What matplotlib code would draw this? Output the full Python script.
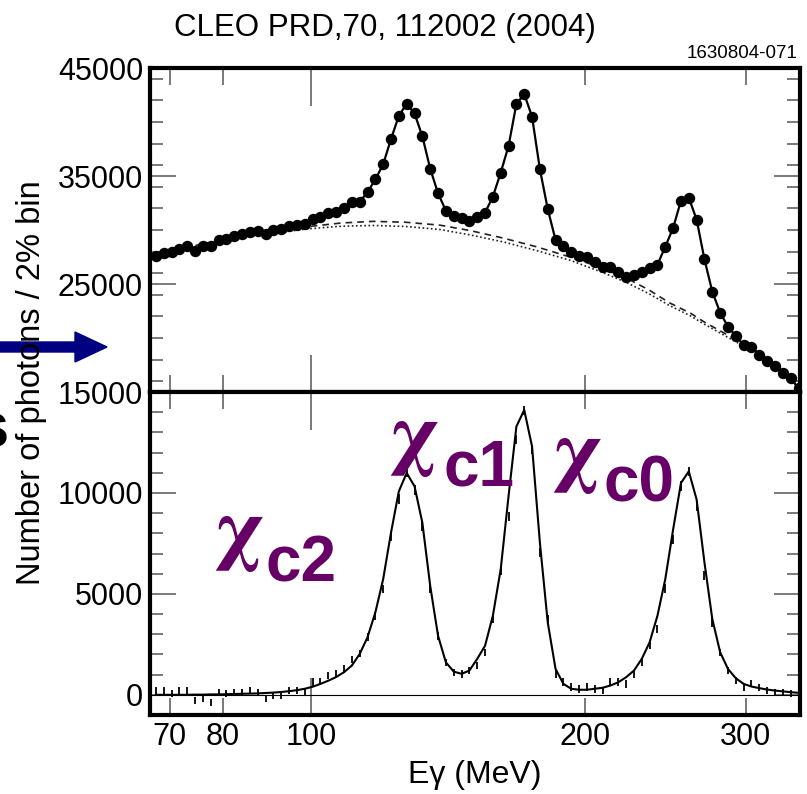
import matplotlib
matplotlib.use("Agg")
import matplotlib.pyplot as plt
from matplotlib.ticker import MultipleLocator
from matplotlib.patches import FancyArrow

plt.rcParams['font.family'] = ['Liberation Sans', 'DejaVu Sans']

# ---------------- data ----------------
# photon energy bin centres (MeV), 2% bins
energy = [67.60, 68.95, 70.33, 71.74, 73.17, 74.64, 76.13, 77.65, 79.20, 80.79,
          82.40, 84.05, 85.73, 87.45, 89.20, 90.98, 92.80, 94.66, 96.55, 98.48,
          100.45, 102.46, 104.51, 106.60, 108.73, 110.91, 113.13, 115.39, 117.70, 120.05,
          122.45, 124.90, 127.40, 129.95, 132.55, 135.20, 137.90, 140.66, 143.47, 146.34,
          149.27, 152.25, 155.30, 158.40, 161.57, 164.80, 168.10, 171.46, 174.89, 178.39,
          181.95, 185.59, 189.31, 193.09, 196.95, 200.89, 204.91, 209.01, 213.19, 217.45,
          221.80, 226.24, 230.76, 235.38, 240.09, 244.89, 249.79, 254.78, 259.88, 265.08,
          270.38, 275.79, 281.30, 286.93, 292.67, 298.52, 304.49, 310.58, 316.80, 323.13,
          329.59, 336.18, 342.91]

# top panel: number of photons per bin
counts = [27600, 27900, 27930, 28270, 28520, 28090, 28550, 28520, 29070, 29170,
          29450, 29630, 29820, 29880, 29630, 29970, 30090, 30400, 30490, 30560,
          30990, 31240, 31540, 31700, 32070, 32560, 32620, 33490, 34690, 36080,
          38430, 40560, 41700, 40800, 38670, 35680, 33400, 31790, 31270, 31080,
          30800, 31170, 31600, 33090, 35310, 37780, 41670, 42590, 40490, 35620,
          31950, 29070, 28520, 27990, 27590, 27530, 27010, 26540, 26540, 26140,
          25680, 25830, 26110, 26480, 26790, 28460, 30190, 32720, 32990, 30960,
          27280, 24290, 22350, 21050, 20190, 19350, 19140, 18430, 17900, 17410,
          16790, 16270, 15340]

# background curves (top panel)
bkg_energy = [66.6, 75, 85, 99, 108, 117, 127, 138.5, 149.5, 162.6, 176.8, 192.5,
              209.3, 221.9, 235, 247.6, 261, 270, 293.4, 311, 330, 344]
bkg_dashed = [27700, 28600, 29500, 30300, 30650, 30800, 30720, 30450, 29950, 29250,
              28450, 27500, 26450, 25550, 24450, 23250, 22300, 21500, 19800, 18600,
              16900, 15500]
bkg_dotted = [27650, 28500, 29350, 30100, 30350, 30420, 30330, 30050, 29550, 28900,
              28100, 27200, 26050, 25150, 24100, 23000, 22050, 21300, 19600, 18450,
              16800, 15350]

# bottom panel: background-subtracted counts and errors
signal = [200, 200, 50, 200, 200, -280, -200, -360, 130, 50,
          100, 130, 210, 130, -200, -30, -30, 210, 210, 130,
          620, 660, 950, 1040, 1280, 1750, 2050, 2850, 3900, 5250,
          7850, 9700, 11000, 10150, 8350, 5250, 2900, 1600, 1100, 1040,
          1200, 1450, 2100, 3750, 6150, 8850, 12650, 14100, 12150, 7050,
          3750, 1040, 620, 380, 300, 380, 300, 210, 620, 620,
          540, 1040, 1600, 2450, 3250, 5250, 7700, 10350, 11050, 9350,
          5900, 3600, 2100, 1200, 700, 380, 540, 380, 210, 130,
          130, 50, 50]
signal_err = [170] * 20 + [190] * 10 + [230] * 6 + [190] * 8 + [230] * 6 + \
             [190] * 15 + [230] * 7 + [170] * 11

signal_fit = [0, 0, 0, 0, 0, 10, 10, 20, 20, 30,
              40, 50, 60, 70, 90, 110, 140, 180, 230, 300,
              400, 540, 700, 880, 1120, 1450, 2020, 2850, 4080, 5730,
              8030, 10080, 10990, 10330, 8520, 5400, 2930, 1610, 1150, 1040,
              1200, 1780, 2430, 3920, 6220, 9840, 13290, 14110, 12300, 7530,
              3590, 1280, 540, 300, 250, 250, 300, 350, 460, 620,
              870, 1200, 1780, 2600, 3920, 5730, 8190, 10490, 11070, 9670,
              6550, 3750, 2110, 1280, 820, 540, 410, 330, 260, 210,
              170, 130, 100]

xlabels_major = ['100']
xticks_major = [100]
xticks_minor = [70, 80, 200, 300]
xlabels_minor = ['70', '80', '200', '300']
top_yticks = [15000, 25000, 35000, 45000]
bot_yticks = [0, 5000, 10000]

# ---------------- figure ----------------
W, H = 807, 794
fig = plt.figure(figsize=(W / 100, H / 100), dpi=100)

def fx(px):
    return px / W

def fy(py):
    return 1 - py / H

ax1 = fig.add_axes([fx(150), fy(392), fx(800) - fx(150), fy(68) - fy(392)])
ax2 = fig.add_axes([fx(150), fy(715), fx(800) - fx(150), fy(392) - fy(715)])

for ax in (ax1, ax2):
    ax.set_xscale('log')
    ax.set_xlim(66.6, 344.2)
    ax.set_xticks(xticks_major, labels=xlabels_major)
    ax.set_xticks(xticks_minor, labels=xlabels_minor, minor=True)
    ax.tick_params(which='both', direction='in', top=True, right=True,
                   color='#555555', width=1.1, labelsize=22, pad=5)
    ax.tick_params(axis='x', which='major', length=27)
    ax.tick_params(axis='x', which='minor', length=12.5)
    ax.tick_params(axis='y', which='major', length=19)
    ax.tick_params(axis='y', which='minor', length=9.5)
    for s in ax.spines.values():
        s.set_linewidth(3)
        s.set_zorder(5)

ax1.tick_params(axis='x', which='both', labelbottom=False)
ax1.set_ylim(15000, 45000)
ax1.set_yticks(top_yticks, labels=[str(v) for v in top_yticks])
ax1.yaxis.set_minor_locator(MultipleLocator(2000))

ax2.set_ylim(-1000, 15000)
ax2.set_yticks(bot_yticks, labels=[str(v) for v in bot_yticks])
ax2.yaxis.set_minor_locator(MultipleLocator(1000))

# top panel
ax1.plot(bkg_energy, bkg_dashed, color='#222222', lw=1.2, ls=(0, (4, 3)))
ax1.plot(bkg_energy, bkg_dotted, color='#222222', lw=1.2, ls=(0, (1, 1.5)))
ax1.plot(energy, counts, color='black', lw=1.6)
ax1.plot(energy, counts, 'o', color='black', ms=7.2, clip_on=True)

# bottom panel
ax2.axhline(0, color='black', lw=0.8)
ax2.errorbar(energy, signal, yerr=signal_err, fmt='none', ecolor='black',
             elinewidth=1.3, capsize=0)
ax2.plot(energy, signal_fit, color='black', lw=1.5)

ax2.set_xlabel('E\u03b3 (MeV)', fontsize=23, labelpad=6)

fig.text(fx(32), fy(383), 'Number of photons / 2% bin', rotation=90,
         fontsize=23.5, ha='center', va='center')
fig.text(fx(385), fy(28), 'CLEO PRD,70, 112002 (2004)', fontsize=22.5,
         ha='center', va='center')
fig.text(fx(797), fy(53), '1630804-071', fontsize=13.5, ha='right', va='center')

# overlay for annotations in pixel coordinates
ov = fig.add_axes([0, 0, 1, 1])
ov.set_xlim(0, W)
ov.set_ylim(H, 0)
ov.axis('off')
ov.add_patch(FancyArrow(0, 347, 107, 0, width=10, head_width=30, head_length=32,
                        length_includes_head=True, color='#000080'))
ov.text(9, 447, 's', ha='right', va='baseline', fontsize=47, fontweight='bold')

purple = '#660066'
labels = [('c2', 264, 555, 265, 581), ('c1', 439, 460, 443, 486), ('c0', 602, 477, 604, 502)]
for sub, xc, yc, xs, ys in labels:
    ov.text(xc, yc, '\u03c7', family='STIXGeneral', fontweight='bold',
            fontsize=60, color=purple, ha='right', va='baseline')
    ov.text(xs, ys, sub, fontsize=46, fontweight='bold', color=purple,
            ha='left', va='baseline')

fig.savefig('out.png', dpi=100)
